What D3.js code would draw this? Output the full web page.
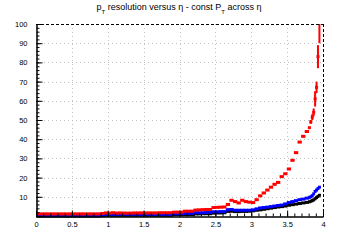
<!DOCTYPE html>
<html><head><meta charset="utf-8">
<script src="https://cdn.jsdelivr.net/npm/d3@7"></script>
<style>html,body{margin:0;padding:0;background:#fff;}svg{display:block;}</style>
</head><body>
<svg id="c" width="360" height="240"></svg>
<script>
// bin centers: 0.05-wide bins to 3.8, then 0.02-wide bins to 4.0
const etaCoarse = d3.range(76).map(i => +(0.025 + i * 0.05).toFixed(3));
const etaFine = d3.range(10).map(i => +(3.81 + i * 0.02).toFixed(3));
const eta = etaCoarse.concat(etaFine);
const binWidth = etaCoarse.map(() => 0.05).concat(etaFine.map(() => 0.02));

const redVals = [
  1.1,1.1,1.1,1.1,1.1,1.1,1.1,1.1,1.1,1.1, 1.1,1.1,1.1,1.1,1.1,1.1,1.1,1.1,
  1.3,1.6,1.5,1.7,1.5,1.6,1.5,1.5,1.5,1.6, 1.6,1.6,1.6,1.6,1.6,1.6,1.7,1.7,1.7,1.7,
  2.0,2.0,2.0,2.5,2.5,2.5,3.1,3.2,3.3,3.4, 3.4,4.4,4.5,4.6,4.7,6.0,8.2,7.5,6.8,8.2,
  7.5,7.2,7.0,8.5,10.5,12.0,13.5,15.0,16.5,17.5, 20.5,22.0,24.5,29.0,33.0,38.5,
  41.5,44.0,46.0,49.0,51.5,54.0,61.0,67.0,83.0,105.0
];
const redErr = [
  0,0,0,0,0,0,0,0,0,0, 0,0,0,0,0,0,0,0,
  0,0,0,0,0,0,0,0,0,0, 0,0,0,0,0,0,0,0,0,0,
  0,0,0,0,0,0,0,0,0,0, 0,0,0,0,0,0,0,0,0,0,
  0,0,0,0,0,0,0,0,0,0, 0,0,0,0,0,0,
  0,0,0,1,1.5,2,4,3,6,15
];
const blueVals = [
  0.3,0.3,0.3,0.3,0.3,0.3,0.3,0.3,0.3,0.3, 0.3,0.3,0.3,0.3,0.3,0.3,0.3,0.3,
  0.6,0.9,0.9,0.9,0.9,0.9,0.9,0.9,0.9,0.9, 0.9,0.9,0.9,0.9,0.9,0.9,0.9,0.9,0.9,0.9,
  1.2,1.2,1.2,1.3,1.3,1.3,1.7,1.7,1.7,1.8, 1.8,2.2,2.2,2.3,2.3,3.3,3.4,3.0,3.0,3.0,
  3.0,3.0,3.2,3.7,4.2,4.4,4.6,4.9,5.2,5.5, 5.7,6.3,7.0,7.5,8.0,8.5,
  8.8,9.3,9.7,10.0,10.6,11.5,12.8,13.5,14.3,15.0
];
const blackVals = [
  0.0,0.0,0.0,0.0,0.0,0.0,0.0,0.0,0.0,0.0, 0.0,0.0,0.0,0.0,0.0,0.0,0.0,0.0,
  0.2,0.4,0.4,0.4,0.4,0.4,0.4,0.4,0.4,0.4, 0.4,0.4,0.4,0.4,0.4,0.4,0.4,0.4,0.4,0.4,
  0.7,0.7,0.7,0.8,0.8,0.8,1.1,1.1,1.2,1.2, 1.2,1.5,1.6,1.6,1.7,2.4,2.5,2.3,2.3,2.4,
  2.4,2.5,2.7,3.0,3.2,3.5,3.8,4.1,4.4,4.7, 4.9,5.2,5.6,5.9,6.2,6.5,
  6.8,7.1,7.4,7.7,8.0,8.4,9.0,9.6,10.2,10.8
];
const xTicks = [0,0.5,1,1.5,2,2.5,3,3.5,4];
const yTicks = [10,20,30,40,50,60,70,80,90,100];
const titleParts = ["p","T"," resolution versus η - const P","T"," across η"];

const svg = d3.select("#c");
const L = 36, R = 323, T = 24, B = 216;
const x = d3.scaleLinear().domain([0,4]).range([L,R]);
const y = d3.scaleLinear().domain([0,100]).range([B,T]);

// grid
const g = svg.append("g");
g.selectAll(".gx").data(xTicks.filter(v => v > 0 && v < 4)).join("line")
  .attr("x1", d => Math.round(x(d))+0.5).attr("x2", d => Math.round(x(d))+0.5).attr("y1", T).attr("y2", B)
  .attr("stroke", "#c0c0c0").attr("stroke-dasharray", "1,3");
g.selectAll(".gy").data(yTicks.filter(v => v < 100)).join("line")
  .attr("y1", d => Math.round(y(d))+0.5).attr("y2", d => Math.round(y(d))+0.5).attr("x1", L).attr("x2", R)
  .attr("stroke", "#c0c0c0").attr("stroke-dasharray", "1,3");

// data
svg.append("clipPath").attr("id","clp").append("rect")
  .attr("x", L).attr("y", T).attr("width", R-L+3).attr("height", B-T+3);
const dg = svg.append("g").attr("clip-path","url(#clp)");
function drawSeries(vals, errs, color) {
  const s = dg.append("g");
  const idx = d3.range(eta.length);
  if (errs) {
    s.selectAll("rect.e").data(idx.filter(i => errs[i] > 0)).join("rect")
      .attr("x", i => x(eta[i]) - 1)
      .attr("width", 2)
      .attr("y", i => y(vals[i] + errs[i]))
      .attr("height", i => y(vals[i] - errs[i]) - y(vals[i] + errs[i]))
      .attr("fill", color);
  }
  const w = i => Math.max(x(binWidth[i]) - x(0) + 0.7, 3);
  s.selectAll("rect.m").data(idx).join("rect")
    .attr("x", i => x(eta[i]) - w(i)/2)
    .attr("width", w)
    .attr("y", i => y(vals[i]) - 1.5)
    .attr("height", 3)
    .attr("fill", color);
}
drawSeries(blackVals, null, "#000");
drawSeries(blueVals, null, "#0000ff");
drawSeries(redVals, redErr, "#ff0000");

// frame: top and right dashed
svg.append("line").attr("x1", L).attr("x2", R+0.5).attr("y1", T+0.5).attr("y2", T+0.5)
  .attr("stroke", "#000").attr("stroke-dasharray", "3,2");
svg.append("line").attr("x1", R+0.5).attr("x2", R+0.5).attr("y1", T).attr("y2", B)
  .attr("stroke", "#000").attr("stroke-dasharray", "3,2");

// axes
const xAxis = d3.axisBottom(x).tickValues(xTicks).tickSize(-6).tickPadding(9)
  .tickFormat(d => d3.format("")(d));
const xMinor = d3.axisBottom(x).tickValues(d3.range(0, 4.001, 0.1)).tickSize(-3).tickFormat("");
const yAxis = d3.axisLeft(y).tickValues(yTicks).tickSize(-6).tickPadding(9);
const yMinor = d3.axisLeft(y).tickValues(d3.range(0, 100.1, 2)).tickSize(-3).tickFormat("");

function styleAxis(sel) {
  sel.select(".domain").attr("stroke", "#000").attr("stroke-width", 1);
  sel.selectAll("line").attr("stroke", "#000");
  sel.selectAll("text").attr("font-family", "Liberation Sans, Arial, sans-serif")
    .attr("font-size", "7.5px").attr("fill", "#000");
}
svg.append("g").attr("transform", `translate(0,${B+0.5})`).call(xMinor).call(styleAxis);
svg.append("g").attr("transform", `translate(0,${B+0.5})`).call(xAxis).call(styleAxis)
  .selectAll("text").attr("dy", "0.2em");
svg.append("g").attr("transform", `translate(${L+0.5},0)`).call(yMinor).call(styleAxis);
svg.append("g").attr("transform", `translate(${L+0.5},0)`).call(yAxis).call(styleAxis);

// title
const tt = svg.append("text").attr("x", 179).attr("y", 10).attr("text-anchor", "middle")
  .attr("font-family", "Liberation Sans, Arial, sans-serif").attr("font-size", "9px").attr("fill", "#000");
titleParts.forEach((p, i) => {
  const sp = tt.append("tspan").text(p);
  if (p === "T") sp.attr("font-size", "6px").attr("dy", "4");
  else if (i > 0) sp.attr("dy", "-4");
});
</script>
</body></html>
